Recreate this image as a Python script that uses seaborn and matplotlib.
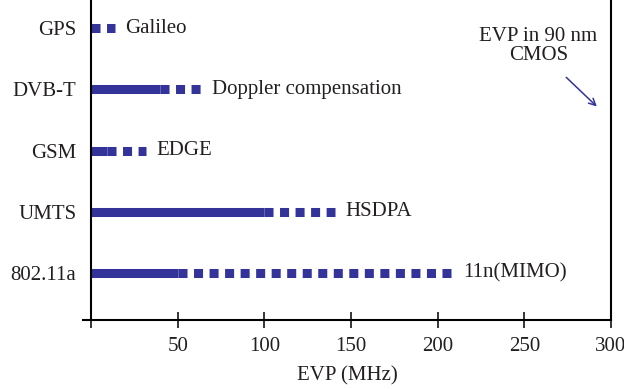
import pandas as pd
import matplotlib
matplotlib.use("Agg")
import matplotlib.pyplot as plt
import seaborn as sns

# standards and their EVP load (MHz): what runs today vs. the planned upgrade
systems = ["GPS", "DVB-T", "GSM", "UMTS", "802.11a"]
current_evp = [0, 40, 9, 100, 50]
future_evp = [14, 64, 32, 141, 209]
future_names = ["Galileo", "Doppler compensation", "EDGE", "HSDPA", "11n(MIMO)"]
x_ticks = [0, 50, 100, 150, 200, 250, 300]
x_tick_labels = ["", "50", "100", "150", "200", "250", "300"]

bar_color = "#333399"
ink = "#231f20"

sns.set_theme(style="ticks")
plt.rcParams["font.family"] = ["Liberation Serif", "DejaVu Serif"]
plt.rcParams["text.color"] = ink

# long-form tables: one 2-point line per system and segment
solid_rows, dash_rows = [], []
for i, name in enumerate(systems):
    if current_evp[i] > 0:
        solid_rows += [(name, i, 0), (name, i, current_evp[i])]
    dash_rows += [(name, i, current_evp[i]), (name, i, future_evp[i])]
solid = pd.DataFrame(solid_rows, columns=["system", "row", "evp"])
dashed = pd.DataFrame(dash_rows, columns=["system", "row", "evp"])

fig = plt.figure(figsize=(6.24, 3.89), dpi=100)
ax = fig.add_axes([83 / 624, 1 - 320 / 389, (611 - 83) / 624, 320 / 389])

sns.lineplot(data=solid, x="evp", y="row", units="system",
             estimator=None, sort=False, color=bar_color, lw=6.5,
             solid_capstyle="butt", ax=ax)
sns.lineplot(data=dashed, x="evp", y="row", units="system",
             estimator=None, sort=False, color=bar_color, lw=6.5,
             linestyle=(0, (1.0, 0.72)), dash_capstyle="butt", ax=ax)

for i, label in enumerate(future_names):
    ax.annotate(label, xy=(future_evp[i], i), xytext=(7, 0),
                textcoords="offset points", va="center", ha="left",
                fontsize=15, color=ink)

# note in the top right corner
ax.text(258, 0.29, "EVP in 90 nm\nCMOS", ha="center", va="center",
        fontsize=15, color=ink, linespacing=1.0)
ax.annotate("", xy=(293, 1.31), xytext=(273, 0.77),
            arrowprops=dict(arrowstyle="->", color=bar_color, lw=1.1,
                            mutation_scale=12))

ax.set_xlim(-4.6, 300)
ax.set_ylim(4.77, -0.463)
ax.spines["left"].set_position(("data", 0))
for side in ["left", "bottom", "right"]:
    ax.spines[side].set_linewidth(1.5)
    ax.spines[side].set_color("black")
ax.spines["top"].set_visible(False)

ax.set_xticks(x_ticks)
ax.set_xticklabels(x_tick_labels)
ax.set_yticks(range(len(systems)))
ax.set_yticklabels(systems)
ax.tick_params(axis="x", direction="inout", length=11, width=1.1,
               labelsize=15, pad=7, colors="black", labelcolor=ink)
ax.tick_params(axis="y", length=0, pad=10.5, labelsize=15, labelcolor=ink)
ax.set_xlabel("EVP (MHz)", fontsize=15, color=ink, labelpad=7)
ax.set_ylabel("")

fig.savefig("out.png", dpi=100)
